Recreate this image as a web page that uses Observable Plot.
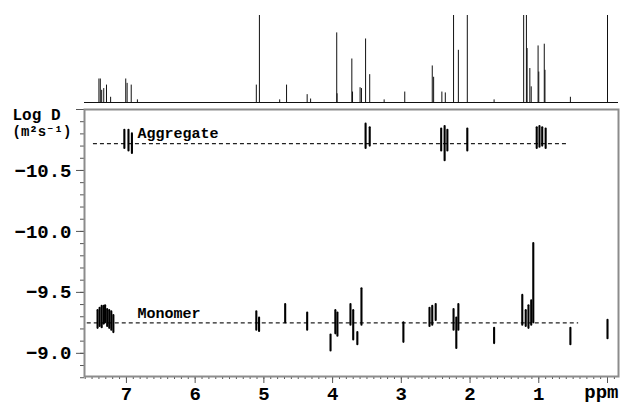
<!DOCTYPE html>
<html><head><meta charset="utf-8">
<script src="https://cdn.jsdelivr.net/npm/d3@7"></script>
<script src="https://cdn.jsdelivr.net/npm/@observablehq/plot@0.6"></script>
<style>
body{margin:0;background:#fff}
#chart{position:relative;width:623px;height:405px;overflow:hidden}
#chart svg{display:block}
</style>
</head><body><div id="chart"></div>
<script>
// ---- 1D 1H spectrum (ppm, relative intensity; 100 = clipped at top) ----
const specPpm = [7.40,7.38,7.36,7.33,7.29,7.23,7.01,6.99,6.93,6.84,5.11,5.065,4.77,4.67,4.37,4.32,3.94,3.935,3.72,3.71,3.60,3.58,3.52,3.46,3.25,2.95,2.55,2.53,2.41,2.36,2.24,2.17,2.04,1.65,1.22,1.18,1.17,1.13,1.11,1.01,1.00,0.92,0.91,0.54,0.00];
const specInt = [27,27,14,16,20,6,27,22,20,3,20,100,3,20,9,4,80,10,50,12,17,16,73,32,3,12,42,29,12,11,100,60,100,3,100,100,62,39,18,65,35,67,37,6,100];

// ---- DOSY cross peaks: ppm, log D upper and lower extent ----
const aggPpm    = [7.03,6.97,6.92,3.52,3.46,2.42,2.37,2.33,2.04,1.03,0.99,0.95,0.90];
const aggTop    = [-10.83,-10.83,-10.80,-10.88,-10.85,-10.84,-10.86,-10.83,-10.84,-10.85,-10.86,-10.85,-10.84];
const aggBottom = [-10.68,-10.66,-10.64,-10.68,-10.70,-10.66,-10.58,-10.66,-10.66,-10.68,-10.69,-10.70,-10.68];

const monoPpm    = [7.42,7.39,7.36,7.33,7.31,7.28,7.25,7.22,7.19,5.11,5.07,4.69,4.37,4.03,3.96,3.93,3.74,3.70,3.64,3.58,2.97,2.59,2.55,2.50,2.24,2.20,2.17,1.65,1.24,1.19,1.15,1.11,1.08,0.54,0.00];
const monoTop    = [-9.35,-9.37,-9.385,-9.385,-9.39,-9.36,-9.35,-9.34,-9.31,-9.34,-9.29,-9.40,-9.33,-9.15,-9.35,-9.33,-9.40,-9.35,-9.17,-9.53,-9.25,-9.37,-9.385,-9.40,-9.36,-9.29,-9.40,-9.205,-9.475,-9.35,-9.39,-9.43,-9.90,-9.205,-9.27];
const monoBottom = [-9.205,-9.22,-9.21,-9.24,-9.25,-9.22,-9.205,-9.19,-9.17,-9.19,-9.18,-9.25,-9.19,-9.02,-9.16,-9.14,-9.23,-9.11,-9.07,-9.23,-9.09,-9.22,-9.23,-9.27,-9.19,-9.04,-9.19,-9.08,-9.23,-9.22,-9.205,-9.23,-9.25,-9.07,-9.12];

// ---- species (dashed lines) ----
const seriesNames = ["Aggregate","Monomer"];
const seriesLogD  = [-10.72,-9.25];
const seriesFrom  = [7.48,7.57];
const seriesTo    = [0.57,0.42];

// ---- axes ----
const xTicks = [7,6,5,4,3,2,1,0];
const xTickLabels = ["7","6","5","4","3","2","1",""];
const yTicks = [-11.0,-10.5,-10.0,-9.5,-9.0];
const yTickLabels = ["","\u221210.5","\u221210.0","\u22129.5","\u22129.0"];

const xDomain = [7.61,-0.16];
const FONT = "'Liberation Mono', 'DejaVu Sans Mono', monospace";

const spec = specPpm.map((p,i)=>({ppm:p, h:specInt[i]}));
const agg = aggPpm.map((p,i)=>({ppm:p, y1:aggTop[i], y2:aggBottom[i]}));
const mono = monoPpm.map((p,i)=>({ppm:p, y1:monoTop[i], y2:monoBottom[i]}));
const species = seriesNames.map((n,i)=>({name:n, d:seriesLogD[i], x1:seriesFrom[i], x2:seriesTo[i]}));
const xLab = new Map(xTicks.map((t,i)=>[t,xTickLabels[i]]));
const yLab = new Map(yTicks.map((t,i)=>[t,yTickLabels[i]]));

const topPlot = Plot.plot({
  width:623, height:105,
  marginLeft:84, marginRight:5, marginTop:15, marginBottom:3,
  x:{domain:xDomain, axis:null},
  y:{domain:[0,100], axis:null},
  marks:[
    Plot.ruleY([0], {stroke:"#111", strokeWidth:1}),
    Plot.ruleX(spec, {x:"ppm", y1:0, y2:"h", stroke:"#111", strokeWidth:1})
  ]
});

const xMinor = d3.range(-1, 77).map(k=>k/10);
const yMinor = d3.range(-110, -87).map(k=>k/10);

const bottomPlot = Plot.plot({
  width:623, height:300,
  marginLeft:84, marginRight:5, marginTop:4, marginBottom:29,
  style:{fontFamily:FONT, fontWeight:"bold", fontSize:"18px", color:"#000"},
  x:{domain:xDomain, label:null},
  y:{domain:[-8.81,-11.0], label:null},
  marks:[
    Plot.axisY(yMinor, {tickSize:4, tickFormat:()=>"", stroke:"#555"}),
    Plot.axisY(yTicks, {tickSize:8, tickPadding:5, tickFormat:d=>yLab.get(d) ?? "", stroke:"#555", fill:"#000", fontSize:19}),
    Plot.axisX(xMinor, {tickSize:3, tickFormat:()=>"", stroke:"#555"}),
    Plot.axisX(xTicks, {tickSize:7, tickPadding:3, tickFormat:d=>xLab.get(d) ?? "", stroke:"#555", fill:"#000", fontSize:19}),
    Plot.frame({stroke:"#8c8c8c", strokeWidth:2}),
    Plot.ruleY(species, {y:"d", x1:"x1", x2:"x2", stroke:"#222", strokeWidth:1.2, strokeDasharray:"4,3"}),
    Plot.ruleX(agg, {x:"ppm", y1:"y1", y2:"y2", stroke:"#000", strokeWidth:2.1, strokeLinecap:"round"}),
    Plot.ruleX(mono, {x:"ppm", y1:"y1", y2:"y2", stroke:"#000", strokeWidth:2.1, strokeLinecap:"round"}),
    Plot.text(species, {x:()=>6.84, y:"d", text:"name", textAnchor:"start", lineAnchor:"middle", dy:-10, fontSize:15, fontWeight:"bold", fill:"#000"}),
    Plot.text(["Log D"], {frameAnchor:"top-left", dx:-72, dy:5, textAnchor:"start", lineAnchor:"middle", fontSize:16, fontWeight:"bold", fill:"#000"}),
    Plot.text(["(m\u00B2s\u207B\u00B9)"], {frameAnchor:"top-left", dx:-72, dy:22, textAnchor:"start", lineAnchor:"middle", fontSize:14, fontWeight:"bold", fill:"#000"}),
    Plot.text(["ppm"], {frameAnchor:"bottom-right", dy:15, textAnchor:"end", lineAnchor:"middle", fontSize:19, fontWeight:"bold", fill:"#000"})
  ]
});

const chart = document.getElementById("chart");
chart.append(topPlot, bottomPlot);
</script>
</body></html>
